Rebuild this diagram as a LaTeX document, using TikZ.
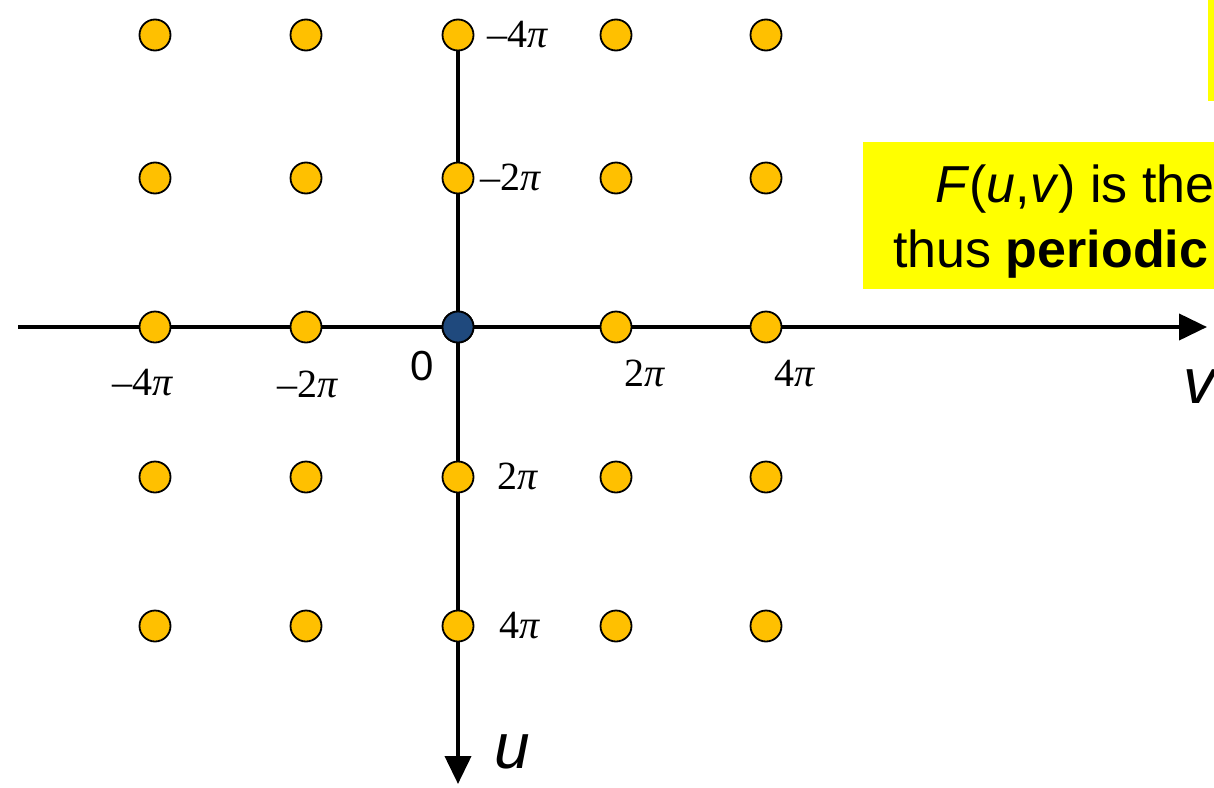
\documentclass[tikz,border=0pt]{standalone}
\usepackage{fontspec}
\setmainfont{Liberation Serif}
\setsansfont{Liberation Sans}
\usetikzlibrary{arrows.meta}

\begin{document}
\begin{tikzpicture}[x=1pt, y=-1pt,
    dot/.style={circle, draw=black, line width=1.8pt, fill=dotColour, minimum size=31pt, inner sep=0pt},
    tick/.style={inner sep=0pt, font=\fontsize{40}{44}\selectfont},
    axislabel/.style={inner sep=0pt, font=\sffamily\itshape\fontsize{64}{70}\selectfont},
    axisline/.style={line width=4pt, -{Triangle[length=28pt, width=26pt]}}]
    % Colours
    \definecolor{dotColour}{HTML}{FFC000}
    \definecolor{originColour}{HTML}{1F497D}
    \definecolor{noteColour}{HTML}{FFFF00}

    % Picture frame
    \useasboundingbox (0,0) rectangle (1214,787);
    \clip (0,0) rectangle (1214,787);

    % Yellow notes at the right edge
    \fill[noteColour] (1208,0) rectangle (1214,101);
    \fill[noteColour] (863,142) rectangle (1214,289);
    \node[anchor=base west, inner sep=0pt, font=\sffamily\fontsize{52}{60}\selectfont] (noteA) at (935,202) {\textit{F}(\textit{u},\textit{v}) is the};
    \node[anchor=base west, inner sep=0pt, font=\sffamily\fontsize{52}{60}\selectfont] (noteB) at (893,267) {thus \textbf{periodic}};

    % Axis ends
    \coordinate (vStart) at (18,327);
    \coordinate (vEnd) at (1207,327);
    \coordinate (uStart) at (458,35);
    \coordinate (uEnd) at (458,784);

    % Draw axes
    \draw[axisline] (vStart) -- (vEnd);
    \draw[axisline] (uStart) -- (uEnd);

    % Draw the lattice of dots
    \foreach \i/\x in {1/155, 2/306, 3/458, 4/616, 5/766}
        \foreach \j/\y in {1/35, 2/178, 3/327, 4/477, 5/626}
            \node[dot] (dot\i\j) at (\x,\y) {};

    % Origin
    \node[dot, fill=originColour] (origin) at (458,327) {};

    % Label u-axis
    \node[tick, anchor=base west] (uA) at (487,47) {–4\textit{π}};
    \node[tick, anchor=base west] (uB) at (480,190) {–2\textit{π}};
    \node[tick, anchor=base west] (uC) at (497,489) {2\textit{π}};
    \node[tick, anchor=base west] (uD) at (499,638) {4\textit{π}};

    % Label v-axis
    \node[tick, anchor=base] (vA) at (143,395) {–4\textit{π}};
    \node[tick, anchor=base] (vB) at (308,397) {–2\textit{π}};
    \node[anchor=base, inner sep=0pt, font=\sffamily\fontsize{42}{46}\selectfont] (zero) at (422,380) {0};
    \node[tick, anchor=base] (vC) at (645,386) {2\textit{π}};
    \node[tick, anchor=base] (vD) at (795,386) {4\textit{π}};

    % Axis names
    \node[axislabel, anchor=base west] (lblU) at (494,768) {u};
    \node[axislabel, anchor=base west] (lblV) at (1183,403) {v};
\end{tikzpicture}
\end{document}
